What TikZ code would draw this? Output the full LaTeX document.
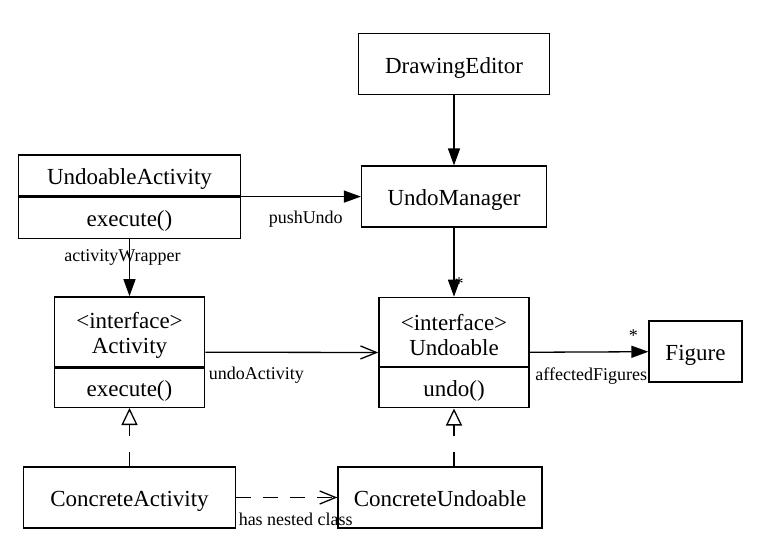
\documentclass[tikz,border=0pt]{standalone}
\usepackage{fontspec}
\setmainfont{Liberation Serif}
\usetikzlibrary{positioning, arrows.meta, calc, fit}
\newcommand{\clsfont}{\fontsize{23}{25}\selectfont}
\newcommand{\lblfont}{\fontsize{18}{20}\selectfont}
\tikzset{
  box/.style  = {draw, rectangle, line width=1.2pt, inner sep=0pt, align=center,
                 font=\clsfont},
  cls/.style  = {box, text height=21pt, text depth=3pt},
  ifc/.style  = {box},
  ar/.style   = {-{Triangle[length=17pt,width=12pt]}, line width=1.3pt},
  nav/.style  = {-{Straight Barb[length=16pt,width=13pt]}, line width=1.3pt},
  real/.style = {-{Triangle[open,length=17pt,width=16pt]}, solid,
                 line width=1.3pt, dash pattern=on 14pt off 16pt},
  dep/.style  = {-{Straight Barb[length=16pt,width=13pt]}, line width=1.3pt,
                 dash pattern=on 15pt off 12pt},
  lbl/.style  = {font=\lblfont, inner sep=1pt},
}

\begin{document}
\begin{tikzpicture}[x=1pt, y=-1pt]
    \useasboundingbox (0,0) rectangle (764,544);
    % classes
    \node[cls, minimum width=191, minimum height=61] (de) at (454,64) {DrawingEditor};
    \node[cls, minimum width=185, minimum height=61] (um) at (454,196.5) {UndoManager};
    \node[cls, minimum width=222, minimum height=41] (uaTop) at (129.5,175.5) {UndoableActivity};
    \node[cls, minimum width=222, minimum height=41, anchor=north] (uaBot) at (uaTop.south) {execute()};
    \node[ifc, minimum width=150, minimum height=70] (actTop) at (129.5,332) {\rule{0pt}{22pt}<interface>\\Activity};
    \node[cls, minimum width=150, minimum height=39, anchor=north] (actBot) at (actTop.south) {execute()};
    \node[fit=(actTop)(actBot), inner sep=0pt] (act) {};
    \node[ifc, minimum width=150, minimum height=69] (undTop) at (454,332) {\rule{0pt}{22pt}<interface>\\Undoable};
    \node[cls, minimum width=150, minimum height=40, anchor=north] (undBot) at (undTop.south) {undo()};
    \node[fit=(undTop)(undBot), inner sep=0pt] (und) {};
    \node[cls, minimum width=93, minimum height=61] (fig) at (695.5,351.5) {Figure};
    \node[cls, minimum width=212, minimum height=61] (ca) at (129.5,497.5) {ConcreteActivity};
    \node[cls, minimum width=204, minimum height=61] (cu) at (440,497.5) {ConcreteUndoable};
    % associations
    \draw[ar] (de) -- (um);
    \draw[ar] (uaTop.south east) -- (uaTop.south east -| um.west)
      node[lbl, pos=0, anchor=north west, xshift=26pt, yshift=-13pt] {pushUndo};
    \draw[ar] (uaBot) -- (act)
      node[lbl, pos=0, anchor=north, xshift=-7pt, yshift=-9pt] {activityWrapper};
    \draw[ar] (um) -- (und)
      node[lbl, pos=1, xshift=5pt, yshift=13pt] {*};
    \draw[nav] (act) -- (und)
      node[lbl, pos=0, anchor=north west, xshift=2pt, yshift=-13.5pt] {undoActivity};
    \draw[ar] (und) -- (fig)
      node[lbl, pos=0, anchor=north west, xshift=4pt, yshift=-13.5pt] {affectedFigures}
      node[lbl, pos=1, xshift=-15pt, yshift=16pt] {*};
    % realizations and dependency
    \draw[real] (ca) -- (act);
    \draw[real] (cu.north -| und.south) -- (und.south);
    \draw[dep] (ca) -- (cu)
      node[lbl, pos=0, anchor=north west, xshift=1pt, yshift=-13.5pt] {has nested class};
\end{tikzpicture}
\end{document}
